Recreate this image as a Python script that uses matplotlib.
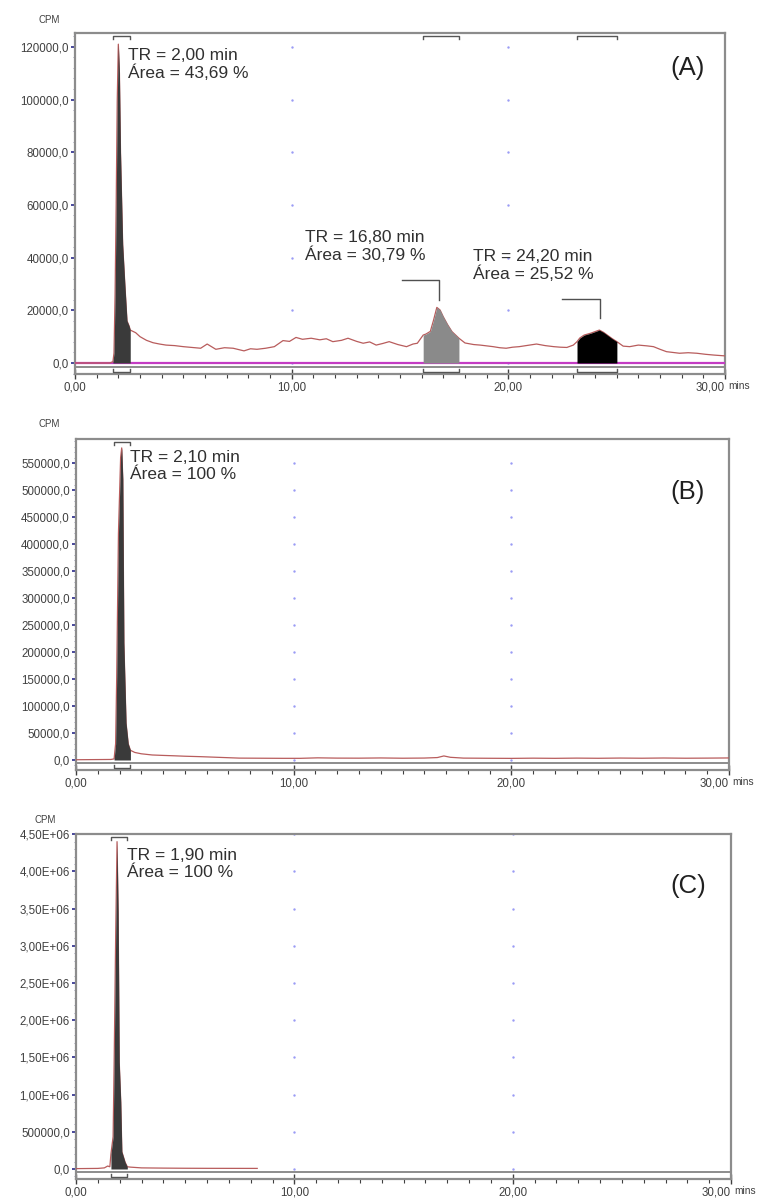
import matplotlib
matplotlib.use("Agg")
import matplotlib.pyplot as plt
from matplotlib.ticker import FixedLocator, MultipleLocator, FuncFormatter
from matplotlib.transforms import blended_transform_factory

plt.rcParams["font.family"] = ["Liberation Sans", "DejaVu Sans"]

W, H = 763, 1200

# radio trace A (min, CPM)
t_a = [0, 1.0, 1.6, 1.75, 1.8, 1.85, 1.9, 1.95, 2.0, 2.05, 2.1, 2.2, 2.3, 2.4, 2.5, 2.55,
       2.8, 3.0, 3.3, 3.6, 3.9, 4.2, 4.6, 5.0, 5.4, 5.8, 6.1, 6.5, 6.9, 7.3, 7.8, 8.1, 8.4,
       8.8, 9.2, 9.6, 9.9, 10.2, 10.5, 10.9, 11.3, 11.6, 11.9, 12.3, 12.6, 13.0, 13.3, 13.6,
       13.9, 14.2, 14.5, 14.9, 15.3, 15.6, 15.8, 16.07, 16.2, 16.4, 16.55, 16.7, 16.85, 17.0,
       17.2, 17.4, 17.72, 18.0, 18.4, 18.7, 19.0, 19.3, 19.6, 19.9, 20.2, 20.5, 20.9, 21.3,
       21.7, 22.1, 22.4, 22.7, 23.0, 23.17, 23.3, 23.5, 23.8, 24.0, 24.2, 24.4, 24.6, 24.8,
       25.01, 25.3, 25.6, 26.0, 26.4, 26.7, 27.0, 27.3, 27.6, 27.9, 28.3, 28.7, 29.1, 29.5, 30.0]
cpm_a = [0, 0, 0, 500, 3800, 26000, 60000, 100000, 121000, 110000, 80000, 45000, 30000, 16000,
         14000, 12500, 11500, 10000, 8600, 7700, 7200, 6800, 6600, 6200, 5900, 5600, 7200, 5200,
         5800, 5600, 4600, 5400, 5200, 5600, 6200, 8500, 8200, 9700, 9000, 9400, 8800, 9200,
         8100, 8600, 9400, 8200, 7500, 8000, 6800, 7400, 8100, 7000, 6200, 7200, 7500, 10600,
         11000, 12000, 16300, 21100, 20100, 17500, 14500, 11900, 9400, 7600, 7000, 6800, 6500,
         6200, 5800, 5600, 6000, 6200, 6700, 7200, 6600, 6200, 6000, 5900, 6800, 8100, 9500,
         10600, 11300, 11900, 12500, 11600, 10400, 9200, 8100, 6400, 6200, 6800, 6500, 6200,
         5200, 4300, 4000, 3700, 3900, 3700, 3300, 3000, 2700]

# radio trace B
t_b = [0, 1.0, 1.6, 1.75, 1.82, 1.87, 1.95, 2.05, 2.1, 2.15, 2.2, 2.3, 2.4, 2.5, 2.7, 3.0,
       3.5, 4.0, 4.5, 5.0, 5.7, 6.5, 7.5, 8.5, 9.5, 10.3, 11.1, 12.0, 13.0, 14.0, 15.0, 16.0,
       16.6, 16.9, 17.2, 17.8, 19.0, 20.0, 21.0, 22.0, 23.0, 24.0, 25.0, 26.0, 27.0, 28.0,
       29.0, 30.0]
cpm_b = [500, 800, 1000, 2000, 30000, 154000, 420000, 560000, 578000, 520000, 217000, 68500,
         30000, 18000, 14000, 11500, 9300, 8500, 7800, 7000, 6200, 5000, 3500, 3300, 3100,
         3100, 4000, 3500, 3400, 3800, 3300, 3600, 4500, 7500, 5000, 3500, 3200, 3000, 3400,
         3100, 3500, 3200, 3600, 3300, 3700, 3300, 3500, 3800]

# radio trace C
t_c = [0, 1.0, 1.3, 1.45, 1.55, 1.6, 1.7, 1.75, 1.82, 1.88, 1.93, 1.98, 2.05, 2.1, 2.25,
       2.35, 2.5, 3.0, 4.0, 5.0, 6.0, 7.0, 8.3]
cpm_c = [5000, 8000, 15000, 40000, 30000, 200000, 435000, 1500000, 3200000, 4400000, 3450000,
         1440000, 900000, 233000, 90000, 30000, 25000, 15000, 12000, 10000, 9000, 8500, 8000]

# integrated regions (start, end, fill colour)
peaks_a = [(1.75, 2.55, "#3a3a3a"), (16.07, 17.72, "#8a8a8a"), (23.17, 25.01, "#000000")]
peaks_b = [(1.75, 2.5, "#3a3a3a")]
peaks_c = [(1.6, 2.35, "#3a3a3a")]

labels_a = ["TR = 2,00 min\nÁrea = 43,69 %", "TR = 16,80 min\nÁrea = 30,79 %",
            "TR = 24,20 min\nÁrea = 25,52 %"]
labels_b = ["TR = 2,10 min\nÁrea = 100 %"]
labels_c = ["TR = 1,90 min\nÁrea = 100 %"]

yticks_a = [0, 20000, 40000, 60000, 80000, 100000, 120000]
yticks_b = [0, 50000, 100000, 150000, 200000, 250000, 300000, 350000, 400000, 450000,
            500000, 550000]
yticks_c = [0, 500000, 1000000, 1500000, 2000000, 2500000, 3000000, 3500000, 4000000,
            4500000]
xticks = [0, 10, 20, 30]

TRACE = "#b85c5c"
FRAME = "#8c8c8c"
TXT = "#303030"
SMALL = 8.3


def fmt_cpm(v, pos=None):
    if v >= 1e6:
        return f"{v:.2E}".replace(".", ",")
    return f"{v:.1f}".replace(".", ",")


def panel(box, ylim, t, cpm, peaks, yticks, magenta=False):
    left, right, top, bottom = box
    ax = fig.add_axes([left / W, 1 - bottom / H, (right - left) / W, (bottom - top) / H])
    ax.set_xlim(0, 30)
    ax.set_ylim(*ylim)
    ph = bottom - top
    per_px = (ylim[1] - ylim[0]) / ph
    box_floor = ylim[0] + 7 * per_px

    for s in ax.spines.values():
        s.set_color(FRAME)
        s.set_linewidth(1.6)
    ax.axhline(box_floor, color=FRAME, lw=1.4, zorder=2)

    # blue dot grid at 10 and 20 min
    for xv in (10, 20):
        ax.scatter([xv] * len(yticks), yticks, s=3, color="#9a9cf5", lw=0, zorder=1)

    if magenta:
        ax.axhline(0, color="#c43cc4", lw=1.6, zorder=3)
    ax.plot(t, cpm, color=TRACE, lw=0.9, zorder=4)

    tr = blended_transform_factory(ax.transData, ax.transAxes)
    for t0, t1, col in peaks:
        xs = [x for x in t if t0 <= x <= t1]
        ys = [cpm[t.index(x)] for x in xs]
        ax.fill_between(xs, 0, ys, color=col, lw=0, zorder=5)
        # integration brackets at top and bottom of the frame
        ft = 1 - 2.5 / ph
        ax.plot([t0, t0, t1, t1], [ft - 3 / ph, ft, ft, ft - 3 / ph], transform=tr,
                color="#555555", lw=1.0, zorder=6, clip_on=False)
        fb = 2.5 / ph
        ax.plot([t0, t0, t1, t1], [fb + 3 / ph, fb, fb, fb + 3 / ph], transform=tr,
                color="#555555", lw=1.0, zorder=6, clip_on=False)

    ax.yaxis.set_major_locator(FixedLocator(yticks))
    ax.yaxis.set_major_formatter(FuncFormatter(fmt_cpm))
    ax.yaxis.set_minor_locator(MultipleLocator(yticks[1] / 5))
    ax.tick_params(axis="y", which="major", direction="out", length=3, width=1.2,
                   color="#2a2a8a", labelsize=SMALL, labelcolor="#404040", pad=1.5)
    ax.tick_params(axis="y", which="minor", direction="out", length=1.5, width=0.6,
                   color="#8a8aa8")
    ax.xaxis.set_major_locator(FixedLocator(xticks))
    ax.xaxis.set_major_formatter(FuncFormatter(lambda v, p: f"{v:.2f}".replace(".", ",")))
    ax.xaxis.set_minor_locator(MultipleLocator(1))
    ax.tick_params(axis="x", which="major", direction="inout", length=7, width=1.0,
                   color="#404040", labelsize=SMALL, labelcolor="#404040", pad=2)
    ax.tick_params(axis="x", which="minor", direction="out", length=3, width=0.8,
                   color="#404040")
    # last time label sits left of its tick, followed by the unit
    ax.xaxis.get_major_ticks()[-1].label1.set_horizontalalignment("right")
    ax.annotate("mins", xy=(1.0, 0), xycoords="axes fraction", xytext=(2.5, -5.0),
                textcoords="offset points", ha="left", va="top", fontsize=7.3,
                color="#404040")
    return ax


def ftext(x, y, s, **kw):
    fig.text(x / W, 1 - y / H, s, **kw)


fig = plt.figure(figsize=(W / 100, H / 100), dpi=100)

ax_a = panel((75, 725, 33, 374), (-4175, 125240), t_a, cpm_a, peaks_a, yticks_a, magenta=True)
ax_b = panel((76, 729, 439, 770), (-18520, 594500), t_b, cpm_b, peaks_b, yticks_b)
ax_c = panel((76, 731, 834, 1179), (-134400, 4503000), t_c, cpm_c, peaks_c, yticks_c)

ann = dict(fontsize=12.5, color=TXT, va="top", ha="left", linespacing=1.12, zorder=7)
ax_a.text(2.45, 119500, labels_a[0], **ann)
ax_a.text(10.6, 50500, labels_a[1], **ann)
ax_a.text(18.37, 43300, labels_a[2], **ann)
ax_b.text(2.49, 574000, labels_b[0], **ann)
ax_c.text(2.34, 4310000, labels_c[0], **ann)

# leader lines from labels to peak tops
ax_a.plot([15.09, 16.8, 16.8], [31500, 31500, 23900], color="#505050", lw=1.0, zorder=7)
ax_a.plot([22.47, 24.23, 24.23], [24300, 24300, 17100], color="#505050", lw=1.0, zorder=7)

for y, tag in ((68, "(A)"), (492, "(B)"), (886, "(C)")):
    ftext(688, y, tag, fontsize=18.5, color="#202020", ha="center", va="center")

for x, y in ((49, 20), (49, 424), (45, 820)):
    ftext(x, y, "CPM", fontsize=7, color="#404040", ha="center", va="center")

fig.savefig("out.png", dpi=100)
